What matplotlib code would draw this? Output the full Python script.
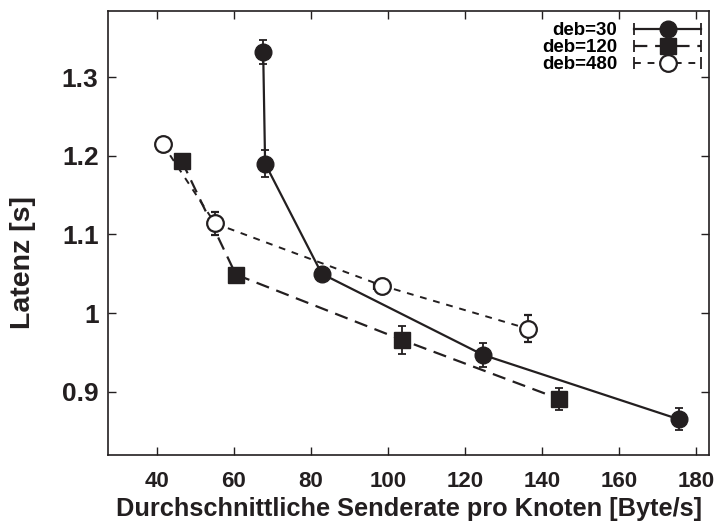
# Latenz über Senderate, drei deb-Werte mit Fehlerbalken

import matplotlib.pyplot as plt
from matplotlib.lines import Line2D
from matplotlib.legend_handler import HandlerLine2D

plt.rcParams['font.family'] = ['Liberation Sans', 'DejaVu Sans']
plt.rcParams['font.weight'] = 'bold'

# deb=30
x30 = [67.6, 68.1, 82.8, 124.6, 175.5]
y30 = [1.332, 1.190, 1.050, 0.947, 0.865]
e30 = [0.015, 0.017, 0.008, 0.015, 0.014]

# deb=120
x120 = [46.5, 60.5, 103.6, 144.4]
y120 = [1.193, 1.049, 0.966, 0.891]
e120 = [0.005, 0.005, 0.018, 0.014]

# deb=480
x480 = [41.5, 55.1, 98.4, 136.4]
y480 = [1.215, 1.114, 1.035, 0.980]
e480 = [0.005, 0.015, 0.008, 0.017]
ex480 = [1.0, 1.0, 2.0, 0.5]

col = '#231f20'


class CapHandler(HandlerLine2D):
    # Legendenlinie mit kleinen Endstrichen wie bei gnuplot-Fehlerbalken
    def create_artists(self, legend, orig_handle, xdescent, ydescent,
                       width, height, fontsize, trans):
        arts = super().create_artists(legend, orig_handle, xdescent, ydescent,
                                      width, height, fontsize, trans)
        y = height / 2 - ydescent
        cap = Line2D([-xdescent, -xdescent + width], [y, y], ls='none',
                     marker='|', ms=8, mew=1.3, color=col, transform=trans)
        return list(arts) + [cap]


fig = plt.figure(figsize=(7.2, 5.22), dpi=100)
ax = fig.add_axes([0.1504, 0.1274, 0.8343, 0.8516])

ax.errorbar(x30, y30, yerr=e30, color=col, lw=1.6, ls='-', marker='o', ms=12,
            elinewidth=1.3, capsize=3, capthick=1.3)
ax.errorbar(x120, y120, yerr=e120, color=col, lw=1.6, ls=(0, (6, 3.5)), marker='s', ms=12,
            elinewidth=1.3, capsize=3, capthick=1.3)
ax.errorbar(x480, y480, yerr=e480, xerr=ex480, color=col, lw=1.4, ls=(0, (3.5, 3.5)),
            marker='o', ms=12, mfc='white', mew=1.6,
            elinewidth=1.3, capsize=3, capthick=1.3)

ax.set_xlim(27.4, 183.3)
ax.set_ylim(0.819, 1.384)
ax.set_xticks([40, 60, 80, 100, 120, 140, 160, 180])
ax.set_yticks([0.9, 1.0, 1.1, 1.2, 1.3])
ax.set_yticklabels(['0.9', '1', '1.1', '1.2', '1.3'])
ax.tick_params(direction='in', length=6, width=1, top=True, right=True,
               color=col, labelcolor=col)
ax.tick_params(axis='x', pad=11, labelsize=16)
ax.tick_params(axis='y', pad=7, labelsize=19)
for s in ax.spines.values():
    s.set_linewidth(1.2)
    s.set_color(col)

ax.set_xlabel('Durchschnittliche Senderate pro Knoten [Byte/s]', fontsize=18.3,
              fontweight='bold', color=col, labelpad=4)
ax.set_ylabel('Latenz [s]', fontsize=20.5, fontweight='bold', color=col)
ax.yaxis.set_label_coords(-0.121, 0.435)

handles = [
    Line2D([], [], color=col, lw=1.6, ls='-', marker='o', ms=12),
    Line2D([], [], color=col, lw=1.6, ls=(0, (6, 3.5)), marker='s', ms=12),
    Line2D([], [], color=col, lw=1.4, ls=(0, (3.5, 3.5)), marker='o', ms=12,
           mfc='white', mew=1.6),
]
ax.legend(handles, ['deb=30', 'deb=120', 'deb=480'], loc='upper right',
          bbox_to_anchor=(1.0, 0.992),
          frameon=False, markerfirst=False, handlelength=3.6,
          labelspacing=0.0, borderaxespad=0.0, handletextpad=0.9,
          prop={'weight': 'bold', 'size': 13.5},
          handler_map={Line2D: CapHandler()})

plt.savefig('out.png', dpi=100)
